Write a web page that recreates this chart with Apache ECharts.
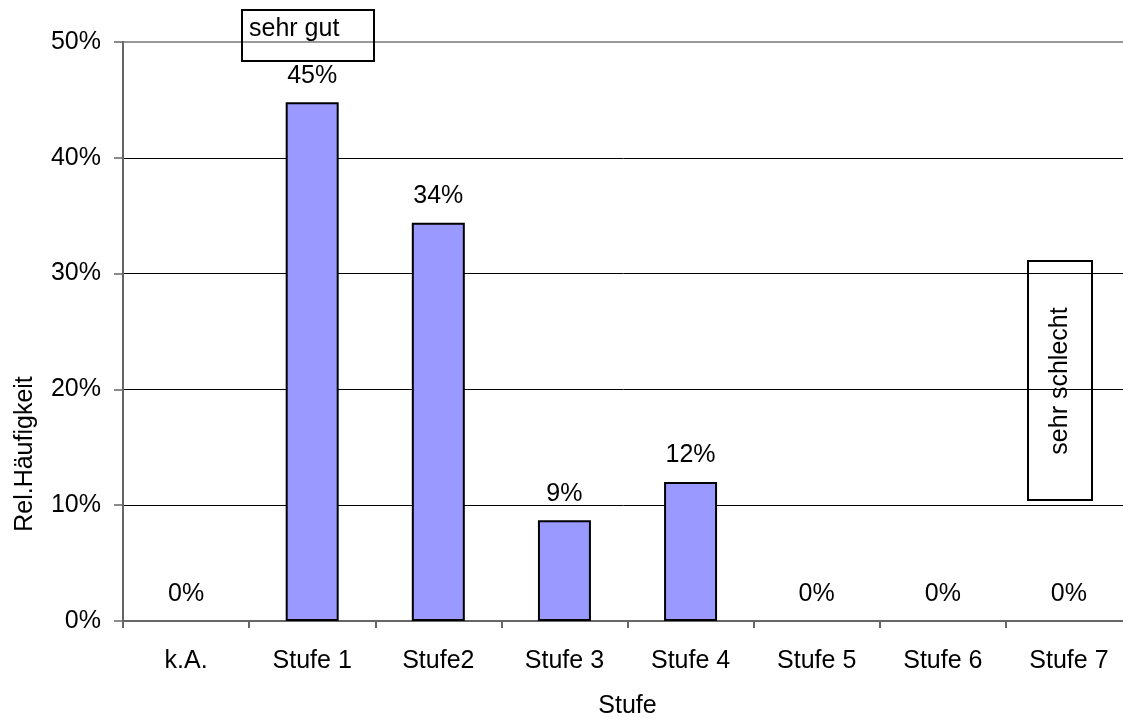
<!DOCTYPE html>
<html>
<head>
<meta charset="utf-8">
<script src="https://cdn.jsdelivr.net/npm/echarts@6/dist/echarts.min.js"></script>
<style>
  html, body { margin: 0; padding: 0; background: #fff; }
  #chart { width: 1123px; height: 718px; }
</style>
</head>
<body>
<div id="chart"></div>
<script>
// Kategorien und Werte (Rel. Häufigkeit in %)
const stufen = ["k.A.", "Stufe 1", "Stufe2", "Stufe 3", "Stufe 4", "Stufe 5", "Stufe 6", "Stufe 7"];
const haeufigkeit = [0, 44.8, 34.4, 8.7, 12.0, 0, 0, 0];
const yTicks = [0, 10, 20, 30, 40, 50];

const FONT = '"Liberation Sans", Arial, sans-serif';
const FS = 25;

const chart = echarts.init(document.getElementById("chart"));

const option = {
  animation: false,
  textStyle: { fontFamily: FONT, color: "#000" },
  grid: {
    left: 123,
    right: -9,
    top: 42,
    bottom: 97,
    outerBoundsMode: "none",
    containLabel: false,
    show: true,
    borderColor: "#999",
    borderWidth: 2,
    backgroundColor: "transparent"
  },
  xAxis: {
    type: "category",
    data: stufen,
    name: "Stufe",
    nameLocation: "middle",
    nameGap: 73,
    nameTextStyle: { fontSize: FS, color: "#000", fontFamily: FONT },
    axisLine: { lineStyle: { color: "#666", width: 2 } },
    axisTick: { show: true, length: 7, lineStyle: { color: "#666", width: 2 } },
    axisLabel: { fontSize: FS, color: "#000", margin: 28, fontFamily: FONT, interval: 0 },
    splitLine: { show: false }
  },
  yAxis: {
    type: "value",
    min: yTicks[0],
    max: yTicks[yTicks.length - 1],
    interval: 10,
    axisLine: { show: true, lineStyle: { color: "#666", width: 2 } },
    axisTick: { show: true, length: 9, lineStyle: { color: "#666", width: 1.5 } },
    axisLabel: { fontSize: FS, color: "#000", margin: 22, fontFamily: FONT, formatter: "{value}%" },
    splitLine: { show: true, showMaxLine: false, lineStyle: { color: "#000", width: 1 } }
  },
  series: [
    {
      type: "bar",
      data: haeufigkeit.map(v => ({
        value: v,
        itemStyle: v === 0 ? { borderWidth: 0, color: "transparent" } : undefined
      })),
      barWidth: 53,
      itemStyle: { color: "#9999FF", borderColor: "#000", borderWidth: 2 },
      label: {
        show: true,
        position: "top",
        distance: 14,
        fontSize: FS,
        color: "#000",
        fontFamily: FONT,
        formatter: p => Math.round(p.value) + "%"
      }
    }
  ],
  graphic: [
    // Achsentitel y (im Original unterhalb der Mitte)
    {
      type: "text",
      x: 25,
      y: 454,
      rotation: Math.PI / 2,
      style: { text: "Rel.Häufigkeit", fontSize: FS, fontFamily: FONT, fill: "#000", align: "center", verticalAlign: "middle" }
    },
    {
      type: "rect",
      shape: { x: 242, y: 10, width: 132, height: 51 },
      style: { fill: "none", stroke: "#000", lineWidth: 2 },
      z: 100
    },
    {
      type: "text",
      x: 249,
      y: 17,
      style: { text: "sehr gut", fontSize: FS, fontFamily: FONT, fill: "#000", align: "left", verticalAlign: "top" },
      z: 100
    },
    {
      type: "rect",
      shape: { x: 1028, y: 261, width: 64, height: 239 },
      style: { fill: "none", stroke: "#000", lineWidth: 2 },
      z: 100
    },
    {
      type: "text",
      x: 1060,
      y: 381,
      rotation: Math.PI / 2,
      style: { text: "sehr schlecht", fontSize: FS, fontFamily: FONT, fill: "#000", align: "center", verticalAlign: "middle" },
      z: 100
    }
  ]
};

chart.setOption(option);
</script>
</body>
</html>
